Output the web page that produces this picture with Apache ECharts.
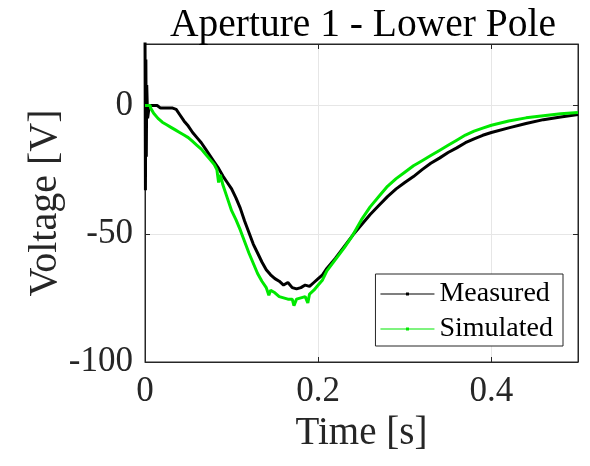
<!DOCTYPE html>
<html>
<head>
<meta charset="utf-8">
<script src="https://cdn.jsdelivr.net/npm/echarts@6/dist/echarts.min.js"></script>
<style>
html,body{margin:0;padding:0;background:#fff;}
#chart{width:590px;height:466px;}
</style>
</head>
<body>
<div id="chart"></div>
<script>
// ---- data ----
var titleText = 'Aperture 1 - Lower Pole';
var xTickValues = [0, 0.2, 0.4];
var yTickValues = [-100, -50, 0];

var measuredTime = [0, 0.0005, 0.001, 0.0015, 0.002, 0.003, 0.005, 0.01, 0.014, 0.018, 0.025, 0.032, 0.036, 0.04, 0.045, 0.05, 0.055, 0.06, 0.065, 0.07, 0.075, 0.08, 0.085, 0.09, 0.095, 0.1, 0.105, 0.11, 0.115, 0.12, 0.125, 0.13, 0.135, 0.14, 0.145, 0.15, 0.155, 0.16, 0.165, 0.17, 0.175, 0.18, 0.185, 0.19, 0.195, 0.2, 0.205, 0.21, 0.22, 0.23, 0.24, 0.25, 0.26, 0.27, 0.28, 0.29, 0.3, 0.31, 0.32, 0.33, 0.34, 0.35, 0.36, 0.37, 0.38, 0.39, 0.4, 0.42, 0.44, 0.46, 0.48, 0.5];
var measuredVolt = [30, -33, 18, -20, 8, -5, 0, 0, 0, -1, -1, -1, -1.5, -3.5, -6, -8, -10.5, -12.5, -14.5, -17, -19.5, -22, -24.5, -27.5, -30, -32.5, -36, -40, -45, -49.5, -54, -57.5, -61, -64, -66, -67.5, -68.5, -70, -69, -71, -71.5, -71, -70, -70.5, -69, -67.5, -66, -63.5, -59.5, -55, -50.5, -46.5, -42.5, -39, -35.5, -32.5, -30, -27.7, -25, -22.5, -20.5, -18.3, -16.5, -14.5, -13, -11.6, -10.5, -8.7, -7, -5.5, -4.5, -3.5];

var simulatedTime = [0, 0.006, 0.0065, 0.01, 0.012, 0.015, 0.02, 0.025, 0.03, 0.035, 0.04, 0.045, 0.05, 0.055, 0.06, 0.065, 0.07, 0.075, 0.08, 0.083, 0.085, 0.087, 0.09, 0.095, 0.1, 0.105, 0.11, 0.115, 0.12, 0.125, 0.13, 0.135, 0.14, 0.143, 0.145, 0.15, 0.155, 0.16, 0.165, 0.17, 0.172, 0.175, 0.18, 0.185, 0.188, 0.19, 0.195, 0.2, 0.205, 0.21, 0.22, 0.23, 0.24, 0.25, 0.26, 0.27, 0.28, 0.29, 0.3, 0.31, 0.32, 0.33, 0.34, 0.35, 0.36, 0.37, 0.38, 0.39, 0.4, 0.42, 0.44, 0.46, 0.48, 0.5];
var simulatedVolt = [0, 0, -1, -3, -2.5, -5, -6.5, -7.5, -8.5, -9.5, -10.5, -11.5, -12.5, -14, -15.5, -17, -19, -21, -23, -25, -30, -27, -31, -36, -41, -44.5, -48.5, -53, -57.5, -61.5, -65.5, -68.5, -71, -74, -72, -73, -74.5, -75, -75.5, -75.5, -78, -75.5, -75, -74.5, -77, -73.5, -72, -70, -68, -64.5, -60, -55.5, -50.5, -44.5, -39.5, -35.5, -31.5, -28.5, -26, -23.5, -21.5, -19.5, -17.5, -15.5, -13.5, -11.5, -10, -8.8, -7.7, -6, -4.8, -4, -3.2, -2.7];

var seriesNames = ['Measured', 'Simulated'];
var seriesColors = ['#000000', '#00e800'];

function pairs(t, v) { return t.map(function (x, i) { return [x, v[i]]; }); }

var FONT = '"Liberation Serif", "Times New Roman", serif';
var legendIcon = 'path://M0,2.6H54V3.4H0Z M25.5,1.5H28.5V4.5H25.5Z';

var chart = echarts.init(document.getElementById('chart'), null, {renderer: 'canvas'});
chart.setOption({
  backgroundColor: '#ffffff',
  animation: false,
  title: {
    text: titleText,
    left: 358,
    textAlign: 'center',
    top: 1,
    textStyle: {fontFamily: FONT, fontSize: 39.5, fontWeight: 'normal', color: '#000'}
  },
  grid: {left: 145, right: 12, top: 44, bottom: 104, show: true, borderColor: '#262626', borderWidth: 1, backgroundColor: 'transparent'},
  legend: {
    orient: 'vertical',
    right: 27,
    top: 274,
    backgroundColor: '#fff',
    borderColor: '#262626',
    borderWidth: 1,
    borderRadius: 0,
    padding: [5, 10, 2, 5],
    itemGap: 5,
    itemWidth: 54,
    itemHeight: 6,
    data: seriesNames.map(function (n) { return {name: n, icon: legendIcon}; }),
    textStyle: {fontFamily: FONT, fontSize: 28, color: '#000', lineHeight: 30, padding: [0,0,0,0]}
  },
  xAxis: [{
    type: 'value', min: 0, max: 0.5, interval: 0.2,
    name: 'Time [s]', nameLocation: 'middle', nameGap: 52, nameMoveOverlap: false,
    nameTextStyle: {fontFamily: FONT, fontSize: 39, color: '#262626'},
    axisLine: {show: true, onZero: false, lineStyle: {color: '#262626', width: 1}},
    axisTick: {show: true, inside: true, length: 5, lineStyle: {color: '#262626'}},
    axisLabel: {fontFamily: FONT, fontSize: 35, color: '#262626', margin: 12,
      formatter: function (v) { return xTickValues.indexOf(Math.round(v*10)/10) >= 0 ? String(Math.round(v*10)/10) : ''; }},
    splitLine: {show: true, lineStyle: {color: '#e6e6e6', width: 1}}
  }, {
    type: 'value', min: 0, max: 0.5, interval: 0.2, position: 'top',
    axisLine: {show: true, onZero: false, lineStyle: {color: '#262626', width: 1}},
    axisTick: {show: true, inside: true, length: 5, lineStyle: {color: '#262626'}},
    axisLabel: {show: false}, splitLine: {show: false}
  }],
  yAxis: [{
    type: 'value', min: -100, max: 24, interval: 50,
    name: 'Voltage [V]', nameLocation: 'middle', nameGap: 80, nameRotate: 90, nameMoveOverlap: false,
    nameTextStyle: {fontFamily: FONT, fontSize: 40, color: '#262626'},
    axisLine: {show: true, onZero: false, lineStyle: {color: '#262626', width: 1}},
    axisTick: {show: true, inside: true, length: 5, lineStyle: {color: '#262626'}},
    axisLabel: {fontFamily: FONT, fontSize: 35, color: '#262626', margin: 12,
      formatter: function (v) { return yTickValues.indexOf(v) >= 0 ? String(v) : ''; }},
    splitLine: {show: true, lineStyle: {color: '#e6e6e6', width: 1}}
  }, {
    type: 'value', min: -100, max: 24, interval: 50, position: 'right',
    axisLine: {show: true, onZero: false, lineStyle: {color: '#262626', width: 1}},
    axisTick: {show: true, inside: true, length: 5, lineStyle: {color: '#262626'}},
    axisLabel: {show: false}, splitLine: {show: false}
  }],
  series: [{
    name: seriesNames[0], type: 'line', data: pairs(measuredTime, measuredVolt),
    color: seriesColors[0], showSymbol: false, symbol: 'circle', symbolSize: 3,
    lineStyle: {color: seriesColors[0], width: 3}, clip: true, z: 3
  }, {
    name: seriesNames[1], type: 'line', data: pairs(simulatedTime, simulatedVolt),
    color: seriesColors[1], showSymbol: false, symbol: 'circle', symbolSize: 3,
    lineStyle: {color: seriesColors[1], width: 3}, clip: true, z: 4
  }]
});
</script>
</body>
</html>
